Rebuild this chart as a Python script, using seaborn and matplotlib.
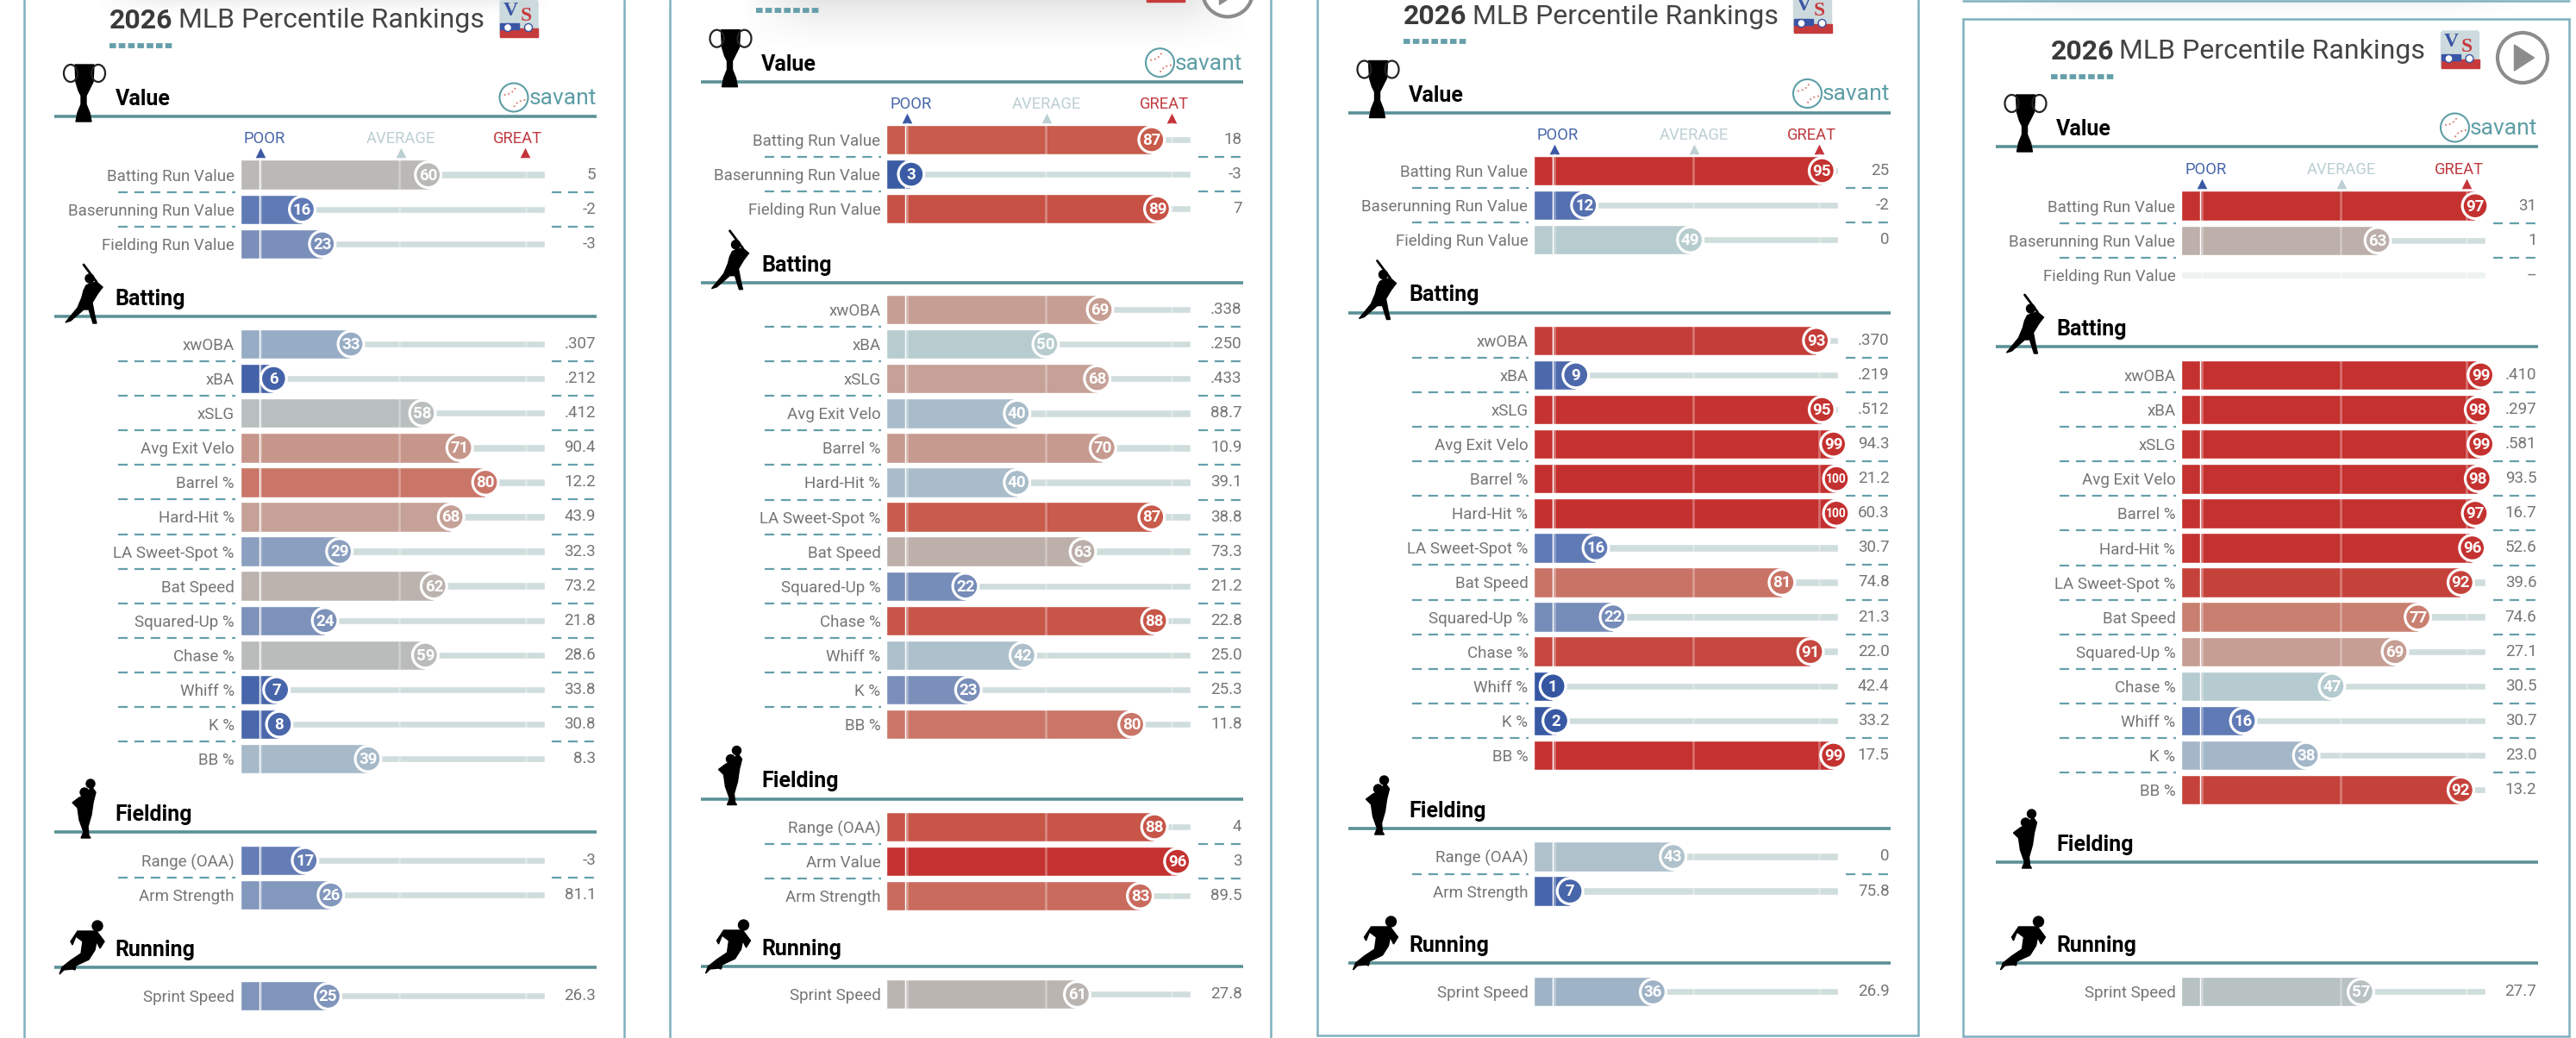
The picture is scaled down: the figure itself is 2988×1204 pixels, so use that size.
import numpy as np
import pandas as pd
import matplotlib
matplotlib.use('Agg')
import matplotlib.pyplot as plt
from matplotlib.colors import to_rgb
from matplotlib.patches import Circle, Polygon, FancyBboxPatch, Rectangle, Arc
import seaborn as sns

W, H = 2988, 1204
DPI = 100

# row labels
value_labels = ['Batting Run Value', 'Baserunning Run Value', 'Fielding Run Value']
batting_labels = ['xwOBA', 'xBA', 'xSLG', 'Avg Exit Velo', 'Barrel %', 'Hard-Hit %',
                  'LA Sweet-Spot %', 'Bat Speed', 'Squared-Up %', 'Chase %',
                  'Whiff %', 'K %', 'BB %']
fielding_labels = ['Range (OAA)', 'Arm Strength']
fielding_labels_of = ['Range (OAA)', 'Arm Value', 'Arm Strength']
running_labels = ['Sprint Speed']

# player 1
p1_value = [60, 16, 23]
p1_value_txt = ['5', '-2', '-3']
p1_batting = [33, 6, 58, 71, 80, 68, 29, 62, 24, 59, 7, 8, 39]
p1_batting_txt = ['.307', '.212', '.412', '90.4', '12.2', '43.9', '32.3', '73.2',
                  '21.8', '28.6', '33.8', '30.8', '8.3']
p1_fielding = [17, 26]
p1_fielding_txt = ['-3', '81.1']
p1_running = [25]
p1_running_txt = ['26.3']

# player 2
p2_value = [87, 3, 89]
p2_value_txt = ['18', '-3', '7']
p2_batting = [69, 50, 68, 40, 70, 40, 87, 63, 22, 88, 42, 23, 80]
p2_batting_txt = ['.338', '.250', '.433', '88.7', '10.9', '39.1', '38.8', '73.3',
                  '21.2', '22.8', '25.0', '25.3', '11.8']
p2_fielding = [88, 96, 83]
p2_fielding_txt = ['4', '3', '89.5']
p2_running = [61]
p2_running_txt = ['27.8']

# player 3
p3_value = [95, 12, 49]
p3_value_txt = ['25', '-2', '0']
p3_batting = [93, 9, 95, 99, 100, 100, 16, 81, 22, 91, 1, 2, 99]
p3_batting_txt = ['.370', '.219', '.512', '94.3', '21.2', '60.3', '30.7', '74.8',
                  '21.3', '22.0', '42.4', '33.2', '17.5']
p3_fielding = [43, 7]
p3_fielding_txt = ['0', '75.8']
p3_running = [36]
p3_running_txt = ['26.9']

# player 4, no percentile for fielding run value and no fielding rows
p4_value = [97, 63, np.nan]
p4_value_txt = ['31', '1', '--']
p4_batting = [99, 98, 99, 98, 97, 96, 92, 77, 69, 47, 16, 38, 92]
p4_batting_txt = ['.410', '.297', '.581', '93.5', '16.7', '52.6', '39.6', '74.6',
                  '27.1', '30.5', '30.7', '23.0', '13.2']
p4_running = [57]
p4_running_txt = ['27.7']

# colours picked off the bars
anchor_pct = [0, 9, 16, 23, 33, 40, 47, 50, 57, 63, 69, 77, 81, 87, 91, 95, 100]
anchor_col = ['#3255a1', '#4d69ac', '#607ab6', '#7a8fb9', '#97acc5', '#a9bcca', '#b6cbcf',
              '#b7cccf', '#b8c2c3', '#bdafaa', '#c69e93', '#c97f70', '#c97366',
              '#c85b4b', '#c5473f', '#c43330', '#c4302f']
anchor_rgb = np.array([to_rgb(c) for c in anchor_col])

TEAL_RULE = '#5b9196'
TEAL_DASH = '#659fab'
TEAL_BOX = '#7fb0bf'
TEXT_GREY = '#757575'
TRACK = '#cfdddc'
ROW = 40.1
BAR_W = 353
X0 = -5.7
X1 = 100.6

# section icons, pixel offsets from the panel's left and the section rule
TROPHY_CUP = [(87, -60), (109, -60), (108, -40), (103, -30), (100, -24), (100, -14), (104, -4),
              (106, 6), (88, 6), (90, -4), (94, -14), (94, -24), (91, -30), (88, -40)]
BATTER = [(112, -40), (119, -34), (113, -26), (107, -16), (110, 0), (112, 8), (108, 8), (103, -8),
          (97, -8), (82, 5), (76, 7), (90, -10), (95, -22), (97, -30), (100, -36), (104, -38)]
FIELDER = [(106, -53), (111, -46), (108, -34), (106, -20), (102, -6), (103, 4), (105, 7), (94, 7),
           (97, 0), (92, -14), (90, -28), (84, -34), (92, -40), (101, -44)]
RUNNER = [(112, -42), (121, -30), (116, -22), (112, -30), (110, -20), (103, -9), (88, -2), (87, 3),
          (84, 2), (74, 3), (69, 8), (72, 0), (82, -8), (94, -16), (96, -30), (88, -36), (84, -26),
          (82, -30), (90, -42)]


def pct_color(p):
    '''blue to grey to red, same idea as the savant bars'''
    return tuple(np.interp(p, anchor_pct, anchor_rgb[:, i]) for i in range(3))


def draw_rows(fig, bg, left, first_y, labels, pcts, txts, value_x, dash_x0):
    '''one section of bars in its own axes, left and first_y are image pixels'''
    n = len(labels)
    top = first_y - ROW / 2
    ax = fig.add_axes([left / W, 1 - (top + n * ROW) / H, BAR_W / W, n * ROW / H])
    ax.patch.set_alpha(0)
    data = pd.DataFrame({'metric': labels, 'pct': pcts})
    cols = {l: pct_color(0 if np.isnan(p) else p) for l, p in zip(labels, data['pct'])}
    idx = np.arange(n)
    has = data['pct'].notna().values
    row_cols = [cols[l] for l, h in zip(labels, has) if h]

    # grey track behind everything
    tracks = [TRACK if h else '#ecf1f1' for h in has]
    ax.barh(idx, X1 - X0, left=X0, height=8.5 / ROW, color=tracks, zorder=0.5)
    sns.barplot(data=data, x='pct', y='metric', hue='metric', order=labels, hue_order=labels,
                palette=cols, width=34.5 / ROW, dodge=False, legend=False, saturation=1, ax=ax)
    # bars start a little left of percentile zero
    ax.barh(idx[has], 1 - X0, left=X0, height=34.5 / ROW, color=row_cols, zorder=1)
    for x in [1.4, 50, 94]:
        ax.axvline(x, color='white', alpha=0.3, lw=2, zorder=3)
    ax.scatter(data['pct'][has], idx[has], s=460, c=row_cols,
               edgecolors='white', linewidths=2.3, zorder=4, clip_on=False)
    for i in idx[has]:
        p = int(pcts[i])
        ax.text(p, i + 0.02, str(p), color='white', fontweight='bold', ha='center',
                va='center', fontsize=10 if p == 100 else 13.5, zorder=5)

    ax.set_xlim(X0, X1)
    ax.set_ylim(n - 0.5, -0.5)
    ax.set_xlabel('')
    ax.set_ylabel('')
    ax.set_xticks([])
    ax.tick_params(axis='y', length=0, pad=4.7, labelsize=13.5, labelcolor=TEXT_GREY)
    sns.despine(ax=ax, left=True, bottom=True)

    # metric values and the dashes between the rows
    for i, t in enumerate(txts):
        y = first_y + i * ROW
        bg.text(value_x, y, t, ha='right', va='center', fontsize=13.5, color=TEXT_GREY)
        if i < n - 1:
            for a, b in [(dash_x0, left - 6), (value_x - 51, value_x + 1)]:
                bg.plot([a, b], [y + ROW / 2, y + ROW / 2], color=TEAL_DASH, lw=1.6,
                        ls=(0, (5, 3.5)))


def draw_icon(bg, kind, dx, rule):
    if kind == 'trophy':
        bg.add_patch(Polygon([(x + dx, y + rule) for x, y in TROPHY_CUP], color='black', zorder=5))
        for cx in [82, 114]:
            bg.add_patch(Arc((cx + dx, rule - 50), 16, 20, color='#222222', lw=1.6, zorder=5))
    elif kind == 'batter':
        bg.add_patch(Polygon([(x + dx, y + rule) for x, y in BATTER], color='black', zorder=5))
        bg.add_patch(Circle((104 + dx, rule - 44), 5, color='black', zorder=5))
        bg.plot([97 + dx, 112 + dx], [rule - 60, rule - 40], color='black', lw=2, zorder=5)
    elif kind == 'fielder':
        bg.add_patch(Polygon([(x + dx, y + rule) for x, y in FIELDER], color='black', zorder=5))
        bg.add_patch(Circle((98 + dx, rule - 46), 5, color='black', zorder=5))
        bg.add_patch(Circle((105 + dx, rule - 56), 5, color='black', zorder=5))
    else:
        bg.add_patch(Polygon([(x + dx, y + rule) for x, y in RUNNER], color='black', zorder=5))
        bg.add_patch(Circle((113 + dx, rule - 48), 6, color='black', zorder=5))


def section_head(bg, dx, rule, name, kind, right):
    bg.plot([63 + dx, right], [rule, rule], color=TEAL_RULE, lw=2.6, solid_capstyle='butt')
    bg.text(133.5 + dx, rule - 20, name, fontsize=18, fontweight='bold', color='black',
            va='center', ha='left')
    draw_icon(bg, kind, dx, rule)


def vs_logo(bg, x, y):
    bg.add_patch(FancyBboxPatch((x + 3, y + 3), 38, 37, boxstyle='round,pad=3', color='#ccdadd'))
    bg.add_patch(Rectangle((x, y + 33), 44, 10, color='#c63a3c'))
    bg.add_patch(Rectangle((x, y + 27), 22, 7, color='#3a55a5'))
    for cx in [x + 9, x + 33]:
        bg.add_patch(Circle((cx, y + 32), 4.5, fc='white', ec='#3a55a5', lw=1))
    bg.text(x + 12, y + 12, 'V', family='Liberation Serif', fontweight='bold', fontsize=17,
            color='#3a55a5', ha='center', va='center')
    bg.text(x + 30, y + 18, 'S', family='Liberation Serif', fontweight='bold', fontsize=17,
            color='#c63a3c', ha='center', va='center')


def savant_mark(bg, right, y):
    bg.text(right, y, 'savant', fontsize=19, color='#5e9ea6', ha='right', va='center')
    cx = right - 96
    bg.add_patch(Circle((cx, y - 1), 16.5, fc='white', ec='#5e9ea6', lw=1.5))
    bg.add_patch(Arc((cx - 12, y - 17), 30, 26, theta1=20, theta2=90, color='#d9776a', lw=1.3, ls=':'))
    bg.add_patch(Arc((cx + 14, y + 15), 30, 26, theta1=200, theta2=270, color='#d9776a', lw=1.3, ls=':'))


def top_shade(bg, x0, x1, height, strength):
    ny, nx = 40, 200
    yy, xx = np.mgrid[0:1:ny * 1j, -1:1:nx * 1j]
    alpha = np.clip(1 - yy, 0, 1) ** 1.5 * np.clip((1 - xx ** 2) * 2, 0, 1) * strength
    img = np.zeros((ny, nx, 4))
    img[..., :3] = 0.5
    img[..., 3] = alpha
    bg.imshow(img, extent=(x0, x1, height, 0), aspect='auto', zorder=0)


def draw_panel(fig, bg, dx, dy, box, rules, firsts, sections, play=False, bottom=False):
    '''dx, dy shift the card from the first one, rules and firsts are pixel rows per section'''
    right = 692 + dx
    # card outline
    bg.plot([box[0], box[0]], [box[2], box[3]], color=TEAL_BOX, lw=1.8)
    bg.plot([box[1], box[1]], [box[2], box[3]], color=TEAL_BOX, lw=1.8)
    if bottom:
        bg.plot([box[0], box[1]], [box[3], box[3]], color=TEAL_BOX, lw=1.8)

    # header
    bg.text(127 + dx, 24 + dy, '2026', fontsize=23, fontweight='bold', color='#3a3a3a',
            va='center', clip_on=True)
    bg.text(207 + dx, 24 + dy, 'MLB Percentile Rankings', fontsize=23, color='#444444',
            va='center', clip_on=True)
    bg.plot([127 + dx, 201 + dx], [53 + dy, 53 + dy], color=TEAL_DASH, lw=4.2,
            ls=(0, (1.3, 0.55)))
    vs_logo(bg, 580 + dx, 0 + dy)
    if play:
        bg.add_patch(Circle((674.5 + dx, 31 + dy), 29, fc='white', ec='#8c8c8c', lw=3))
        bg.add_patch(Polygon([(665 + dx, 16 + dy), (665 + dx, 46 + dy), (688 + dx, 31 + dy)],
                             color='#8c8c8c'))

    kinds = [('Value', 'trophy'), ('Batting', 'batter'), ('Fielding', 'fielder'),
             ('Running', 'runner')]
    for rule, (name, kind) in zip(rules, kinds):
        section_head(bg, dx, rule, name, kind, right)
    savant_mark(bg, right, rules[0] - 21)

    # poor, average, great above the first bars
    y0 = firsts[0]
    bg.text(282.5 + dx, y0 - 41.5, 'POOR', fontsize=13.2, color='#4564a8', ha='left', va='center')
    bg.text(464.5 + dx, y0 - 41.5, 'AVERAGE', fontsize=13.2, color='#bccfd3', ha='center', va='center')
    bg.text(629 + dx, y0 - 41.5, 'GREAT', fontsize=13.2, color='#bf3a40', ha='right', va='center')
    for x, c in [(302, '#3a58a4'), (464.5, '#bccfd3'), (609, '#c4343a')]:
        bg.scatter([x + dx], [y0 - 25.5], marker='^', s=70, color=c, linewidths=0)

    for first, sec in zip(firsts, sections):
        if sec is None:
            continue
        draw_rows(fig, bg, 278.5 + dx, first, sec[0], sec[1], sec[2], 691 + dx, 137 + dx)


sns.set_style('white')
plt.rcParams['font.family'] = ['Roboto', 'DejaVu Sans']

fig = plt.figure(figsize=(W / DPI, H / DPI), dpi=DPI, facecolor='white')
bg = fig.add_axes([0, 0, 1, 1])
bg.axis('off')

top_shade(bg, 110, 640, 20, 0.12)
top_shade(bg, 860, 1450, 62, 0.2)
top_shade(bg, 2320, 2930, 22, 0.10)

draw_panel(fig, bg, 0, 0, (28, 724, 0, 1204),
           [135, 367, 965, 1122], [202.7, 399, 998, 1155],
           [(value_labels, p1_value, p1_value_txt),
            (batting_labels, p1_batting, p1_batting_txt),
            (fielding_labels, p1_fielding, p1_fielding_txt),
            (running_labels, p1_running, p1_running_txt)])
draw_panel(fig, bg, 749.5, -40.6, (777, 1474, 0, 1204),
           [94.7, 327.7, 926.5, 1121], [162, 359, 959, 1153],
           [(value_labels, p2_value, p2_value_txt),
            (batting_labels, p2_batting, p2_batting_txt),
            (fielding_labels_of, p2_fielding, p2_fielding_txt),
            (running_labels, p2_running, p2_running_txt)], play=True)
draw_panel(fig, bg, 1500.5, -5, (1528, 2225, 0, 1201),
           [130.5, 362.5, 961, 1117], [198, 394.8, 993.5, 1150],
           [(value_labels, p3_value, p3_value_txt),
            (batting_labels, p3_batting, p3_batting_txt),
            (fielding_labels, p3_fielding, p3_fielding_txt),
            (running_labels, p3_running, p3_running_txt)], bottom=True)
draw_panel(fig, bg, 2251.5, 36, (2277, 2980, 22, 1202),
           [170, 402, 1000, 1117], [238.7, 435, 1040, 1150],
           [(value_labels, p4_value, p4_value_txt),
            (batting_labels, p4_batting, p4_batting_txt),
            None,
            (running_labels, p4_running, p4_running_txt)], play=True, bottom=True)
# top of the card on panel 4, and the bottom of the one above it
bg.plot([2277, 2980], [22, 22], color=TEAL_BOX, lw=1.8)
bg.plot([2277, 2980], [1, 1], color=TEAL_BOX, lw=1.8)

bg.set_xlim(0, W)
bg.set_ylim(H, 0)
fig.savefig('out.png', dpi=DPI)
